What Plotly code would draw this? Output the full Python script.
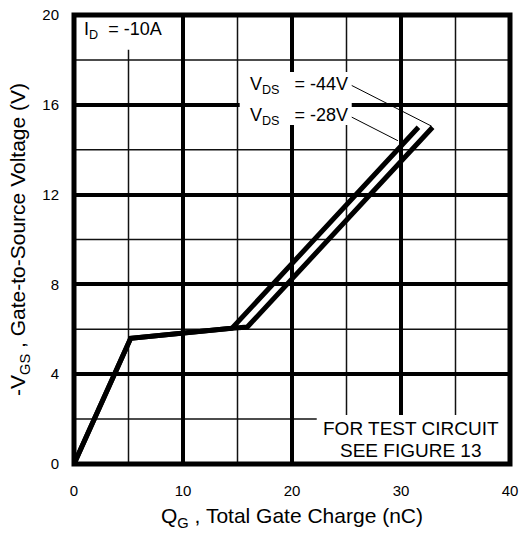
import plotly.graph_objects as go

# Data
qg_28 = [0, 5.2, 14.5, 31.6]
vgs_28 = [0, 5.6, 6.05, 15.0]
qg_44 = [0, 5.2, 14.5, 15.9, 32.9]
vgs_44 = [0, 5.6, 6.05, 6.1, 15.0]
x_ticks = [0, 10, 20, 30, 40]
y_ticks = [0, 4, 8, 12, 16, 20]

FONT = "Liberation Sans, Arial, sans-serif"

fig = go.Figure()
fig.add_trace(go.Scatter(x=qg_28, y=vgs_28, mode="lines",
                         line=dict(color="black", width=5), name="VDS=-28V",
                         showlegend=False))
fig.add_trace(go.Scatter(x=qg_44, y=vgs_44, mode="lines",
                         line=dict(color="black", width=5), name="VDS=-44V",
                         showlegend=False))

# leader lines from labels to curves
fig.add_trace(go.Scatter(x=[25.4, qg_44[-1] - 0.1], y=[16.88, vgs_44[-1] + 0.05], mode="lines",
                         line=dict(color="black", width=1), showlegend=False, hoverinfo="skip"))
fig.add_trace(go.Scatter(x=[25.4, 29.72], y=[15.47, 14.4], mode="lines",
                         line=dict(color="black", width=1), showlegend=False, hoverinfo="skip"))

# minor (thin) grid lines halfway between major ticks
x_minor = [(a + b) / 2 for a, b in zip(x_ticks[:-1], x_ticks[1:])]
y_minor = [(a + b) / 2 for a, b in zip(y_ticks[:-1], y_ticks[1:])]

shapes = []
for xv in x_minor:
    shapes.append(dict(type="line", xref="x", yref="paper", x0=xv, x1=xv, y0=0, y1=1,
                       line=dict(color="#111", width=1.5), layer="between"))
for yv in y_minor:
    shapes.append(dict(type="line", xref="paper", yref="y", x0=0, x1=1, y0=yv, y1=yv,
                       line=dict(color="#111", width=1.5), layer="between"))

shapes += [
    # white label boxes
    dict(type="rect", xref="x", yref="y", x0=0, x1=9.7, y0=18.45, y1=20,
         fillcolor="white", line=dict(width=0), layer="above"),
    dict(type="rect", xref="x", yref="y", x0=15.2, x1=25.48, y0=15.1, y1=17.46,
         fillcolor="white", line=dict(width=0), layer="above"),
    dict(type="rect", xref="x", yref="y", x0=22.27, x1=40, y0=0, y1=2.18,
         fillcolor="white", line=dict(width=0), layer="above"),
    # thick border
    dict(type="rect", xref="paper", yref="paper", x0=0, x1=1, y0=0, y1=1,
         line=dict(color="black", width=5), layer="above"),
]

annotations = [
    dict(x=0.7, y=19.3, xref="x", yref="y", text="I<sub>D</sub>\u00a0 = -10A",
         showarrow=False, xanchor="left", yanchor="middle",
         font=dict(family=FONT, size=18, color="black")),
    dict(x=15.95, y=16.88, xref="x", yref="y", text="V<sub>DS</sub>\u00a0\u00a0 = -44V",
         showarrow=False, xanchor="left", yanchor="middle",
         font=dict(family=FONT, size=18, color="black")),
    dict(x=15.95, y=15.46, xref="x", yref="y", text="V<sub>DS</sub>\u00a0\u00a0 = -28V",
         showarrow=False, xanchor="left", yanchor="middle",
         font=dict(family=FONT, size=18, color="black")),
    dict(x=30.95, y=1.56, xref="x", yref="y", text="FOR TEST CIRCUIT",
         showarrow=False, xanchor="center", yanchor="middle",
         font=dict(family=FONT, size=19, color="black")),
    dict(x=30.95, y=0.59, xref="x", yref="y", text="SEE FIGURE 13",
         showarrow=False, xanchor="center", yanchor="middle",
         font=dict(family=FONT, size=19, color="black")),
]

fig.update_layout(
    width=520, height=535,
    margin=dict(l=74, r=10, t=15, b=71, autoexpand=False),
    paper_bgcolor="white", plot_bgcolor="white",
    font=dict(family=FONT, color="black"),
    shapes=shapes, annotations=annotations,
    showlegend=False,
)
fig.update_xaxes(
    range=[0, 40], tickmode="array", tickvals=x_ticks, ticktext=[str(v) for v in x_ticks],
    showgrid=True, gridcolor="black", gridwidth=4,
    zeroline=False, showline=False, ticks="",
    tickfont=dict(family=FONT, size=15, color="black"), ticklabelstandoff=16,
    title=dict(text="Q<sub>G</sub> , Total Gate Charge (nC)",
               font=dict(family=FONT, size=21, color="black"), standoff=10),
    fixedrange=True,
)
fig.update_yaxes(
    range=[0, 20], tickmode="array", tickvals=y_ticks, ticktext=[str(v) for v in y_ticks],
    showgrid=True, gridcolor="black", gridwidth=4,
    zeroline=False, showline=False, ticks="",
    tickfont=dict(family=FONT, size=15, color="black"), ticklabelstandoff=14,
    title=dict(text="-V<sub>GS</sub> , Gate-to-Source Voltage (V)",
               font=dict(family=FONT, size=21, color="black"), standoff=10),
    fixedrange=True,
)

fig.write_html("out.html", config={"displayModeBar": False, "staticPlot": True},
               post_script="document.body.style.margin='0';document.body.style.padding='0';"
                           "document.documentElement.style.overflow='hidden';")
